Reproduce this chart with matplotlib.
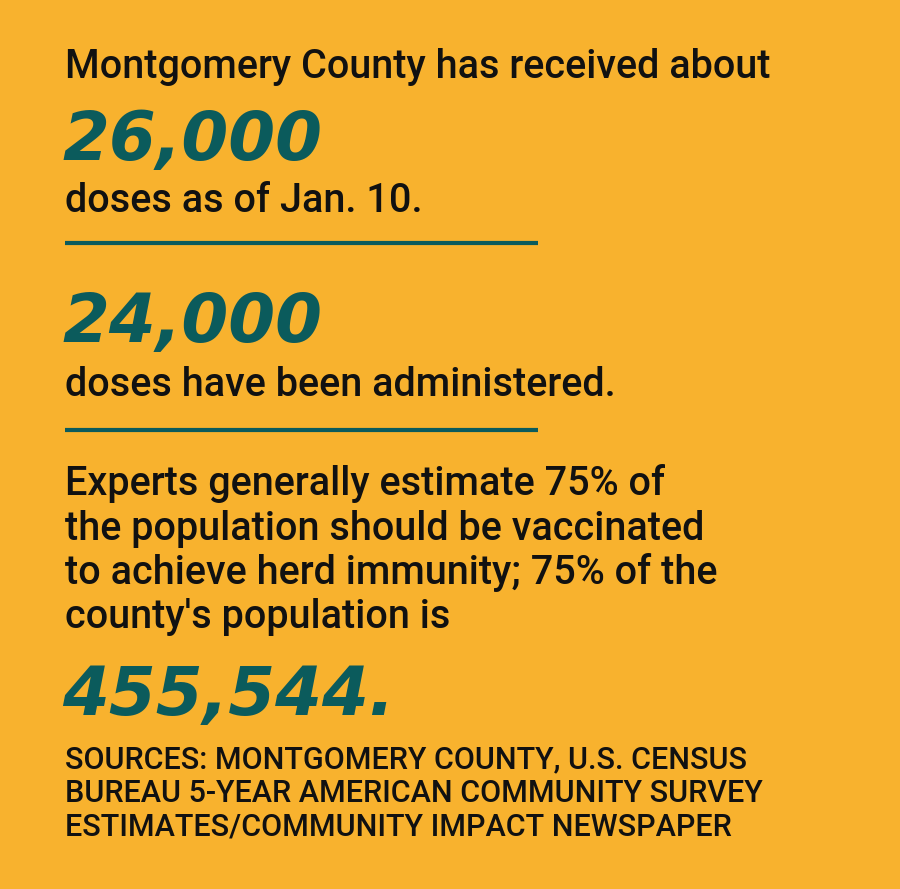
import matplotlib.pyplot as plt

# text content of the graphic
intro = "Montgomery County has received about"
big_numbers = ["26,000", "24,000", "455,544."]
captions = ["doses as of Jan. 10.", "doses have been administered."]
body_lines = ["Experts generally estimate 75% of",
              "the population should be vaccinated",
              "to achieve herd immunity; 75% of the",
              "county's population is"]
source_lines = ["SOURCES: MONTGOMERY COUNTY, U.S. CENSUS",
                "BUREAU 5-YEAR AMERICAN COMMUNITY SURVEY",
                "ESTIMATES/COMMUNITY IMPACT NEWSPAPER"]

bg = "#F8B22E"
teal = "#0B5B5C"
ink = "#111111"
body_font = "Roboto"
num_font = "DejaVu Sans"

fig = plt.figure(figsize=(9, 8.89), dpi=100, facecolor=bg)
ax = fig.add_axes([0, 0, 1, 1])
ax.set_xlim(0, 900)
ax.set_ylim(889, 0)
ax.axis("off")

x0 = 65
body_kw = dict(fontsize=28.5, family=body_font, weight="medium", color=ink,
               va="baseline")
num_kw = dict(fontsize=48.5, family=num_font, weight="bold", style="oblique",
              color=teal, va="baseline")

ax.text(x0, 78, intro, **body_kw)

# first block
ax.text(x0 - 3, 160, big_numbers[0], **num_kw)
ax.text(x0, 212, captions[0], **body_kw)
ax.plot([x0, 538], [243, 243], color=teal, lw=3, solid_capstyle="butt")

# second block
ax.text(x0 - 3, 342, big_numbers[1], **num_kw)
ax.text(x0, 396, captions[1], **body_kw)
ax.plot([x0, 538], [430, 430], color=teal, lw=3, solid_capstyle="butt")

# body paragraph
for i, line in enumerate(body_lines):
    ax.text(x0, 495 + i * 44.5, line, **body_kw)

ax.text(x0 - 3, 715, big_numbers[2], **num_kw)

for i, line in enumerate(source_lines):
    ax.text(x0, 768 + i * 33.5, line, fontsize=22, family=body_font,
            weight="medium", color=ink, va="baseline")

fig.savefig("out.png", dpi=100, facecolor=bg)
